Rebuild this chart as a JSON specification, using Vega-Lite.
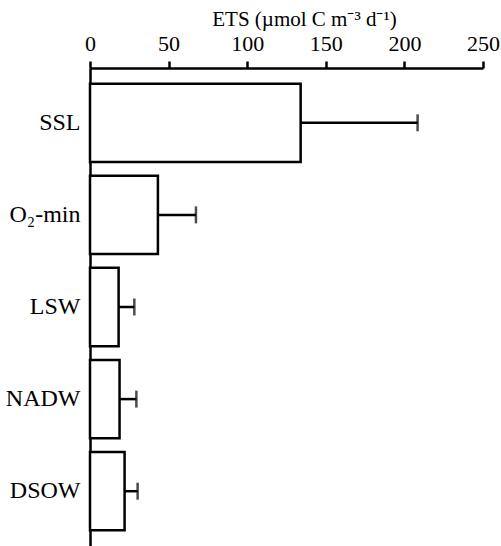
{
  "$schema": "https://vega.github.io/schema/vega-lite/v6.json",
  "autosize": {"type": "none"},
  "padding": {"left": 90, "top": 68, "right": 18, "bottom": 0},
  "width": 393,
  "height": 478,
  "background": "white",
  "config": {
    "view": {"stroke": null},
    "font": "Liberation Serif",
    "axis": {
      "labelFont": "Liberation Serif",
      "titleFont": "Liberation Serif",
      "labelColor": "black",
      "titleColor": "black",
      "domainColor": "black",
      "tickColor": "black",
      "grid": false
    }
  },
  "data": {
    "values": [
      {"layer": "SSL", "ets": 134, "ets_high": 208.4},
      {"layer": "O₂-min", "ets": 43.2, "ets_high": 67.4},
      {"layer": "LSW", "ets": 18.2, "ets_high": 28.2},
      {"layer": "NADW", "ets": 18.8, "ets_high": 29.5},
      {"layer": "DSOW", "ets": 22, "ets_high": 30.3}
    ]
  },
  "encoding": {
    "y": {
      "field": "layer",
      "type": "nominal",
      "sort": null,
      "scale": {"paddingInner": 0.15, "paddingOuter": 0.17},
      "axis": {
        "title": null,
        "ticks": false,
        "tickSize": 0,
        "labelPadding": 10,
        "labelFontSize": 24,
        "domainWidth": 2.5
      }
    }
  },
  "layer": [
    {
      "mark": {"type": "bar", "fill": "white", "stroke": "black", "strokeWidth": 2.5},
      "encoding": {
        "x": {
          "field": "ets",
          "type": "quantitative",
          "scale": {"domain": [0, 250], "nice": false},
          "axis": {
            "orient": "top",
            "values": [0, 50, 100, 150, 200, 250],
            "title": "ETS (µmol C m⁻³ d⁻¹)",
            "titleFontSize": 21,
            "titleFontWeight": "normal",
            "titleX": 214,
            "titleY": -43,
            "titleBaseline": "alphabetic",
            "labelFontSize": 22,
            "labelPadding": 6,
            "tickSize": 7,
            "tickWidth": 2.5,
            "domainWidth": 2.5,
            "labelFlush": false
          }
        }
      }
    },
    {
      "mark": {"type": "rule", "color": "black", "strokeWidth": 2.5},
      "encoding": {
        "x": {"field": "ets", "type": "quantitative"},
        "x2": {"field": "ets_high"}
      }
    },
    {
      "mark": {"type": "tick", "color": "black", "thickness": 2.5, "size": 17, "orient": "vertical"},
      "encoding": {
        "x": {"field": "ets_high", "type": "quantitative"}
      }
    }
  ]
}
